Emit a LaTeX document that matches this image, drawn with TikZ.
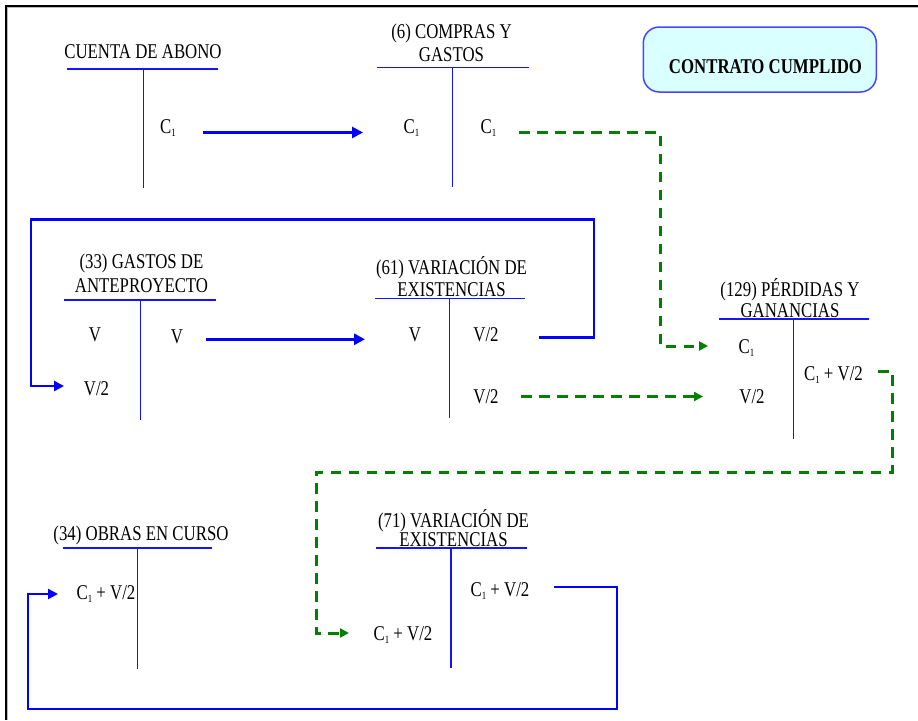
\documentclass[tikz,border=0pt]{standalone}
\usepackage{fontspec}
\setmainfont{Liberation Serif}[FakeStretch=0.8]
\usetikzlibrary{arrows.meta}
\definecolor{tblue}{RGB}{20,20,255}
\definecolor{fgreen}{RGB}{0,128,0}
\definecolor{boxfill}{RGB}{218,255,255}
\definecolor{boxline}{RGB}{70,70,255}
\newcommand{\Cone}{C\raisebox{-3pt}{\fontsize{11}{11}\selectfont 1}}
\newcommand{\ttl}[3]{\fontsize{21}{#1}\selectfont\begin{tabular}[t]{@{}c@{}}#2\\#3\end{tabular}}
\tikzset{
  ttext/.style={inner sep=0pt, anchor=base, font=\fontsize{21}{22}\selectfont},
  rule/.style={draw=tblue, line width=1.1pt},
  barrow/.style={draw=blue, line width=3.4pt, -{Triangle[length=11pt,width=11pt]}},
  bloop/.style={draw=blue, line width=2.8pt, -{Triangle[length=10pt,width=10pt]}},
  garrow/.style={draw=fgreen, line width=3pt, dash pattern=on 10.5pt off 7.5pt, -{Triangle[length=9pt,width=9pt]}},
}
\begin{document}
\begin{tikzpicture}[x=1pt,y=-1pt]
\useasboundingbox (0,0) rectangle (918,720);
% frame
\draw[gray!55, line width=1pt] (7.8,720) -- (7.8,7.8) -- (918,7.8);
\draw[black, line width=2.3pt] (6.2,720) -- (6.2,6.2) -- (918,6.2);

% CONTRATO CUMPLIDO box
\node[draw=boxline, fill=boxfill, line width=1.5pt, rounded corners=16pt, minimum width=233pt, minimum height=65pt, inner sep=0pt] (box) at (759.8,59.5) {};
\node[inner sep=0pt, anchor=base, font=\fontsize{21}{22}\selectfont\bfseries] (boxt) at (765.5,73.5) {CONTRATO CUMPLIDO};

% ---- T account: CUENTA DE ABONO
\node[ttext] (t1) at (143,58) {CUENTA DE ABONO};
\coordinate (t1l) at (67,69); \coordinate (t1r) at (218,69);
\coordinate (t1t) at (143.4,69); \coordinate (t1b) at (143.4,188);
\draw[rule] (t1l) -- (t1r); \draw[rule] (t1t) -- (t1b);
\node[ttext] (e1) at (168,133) {\Cone};

% ---- (6) COMPRAS Y GASTOS
\node[ttext] (t2) at (451.5,38.5) {\ttl{22.5}{(6) COMPRAS Y}{GASTOS}};
\coordinate (t2l) at (376.5,67.3); \coordinate (t2r) at (528.7,67.3);
\coordinate (t2t) at (452.6,67.3); \coordinate (t2b) at (452.6,187);
\draw[rule] (t2l) -- (t2r); \draw[rule] (t2t) -- (t2b);
\node[ttext] (e2a) at (411.5,133) {\Cone};
\node[ttext] (e2b) at (488.5,133) {\Cone};

% ---- (33) GASTOS DE ANTEPROYECTO
\node[ttext] (t3) at (141.5,268.5) {\ttl{24}{(33) GASTOS DE}{ANTEPROYECTO}};
\coordinate (t3l) at (64.4,300); \coordinate (t3r) at (215.5,300);
\coordinate (t3t) at (140.5,300); \coordinate (t3b) at (140.5,420);
\draw[rule] (t3l) -- (t3r); \draw[rule] (t3t) -- (t3b);
\node[ttext] (e3a) at (95,341.5) {V};
\node[ttext] (e3b) at (177,343) {V};
\node[ttext] (e3c) at (96.5,395) {V/2};

% ---- (61) VARIACION DE EXISTENCIAS
\node[ttext] (t4) at (451.5,274) {\ttl{22.5}{(61) VARIACIÓN DE}{EXISTENCIAS}};
\coordinate (t4l) at (374.7,298.5); \coordinate (t4r) at (525,298.5);
\coordinate (t4t) at (449.6,298.5); \coordinate (t4b) at (449.6,418);
\draw[rule] (t4l) -- (t4r); \draw[rule] (t4t) -- (t4b);
\node[ttext] (e4a) at (415,341.5) {V};
\node[ttext] (e4b) at (486,341.5) {V/2};
\node[ttext] (e4c) at (486,403) {V/2};

% ---- (129) PERDIDAS Y GANANCIAS
\node[ttext] (t5) at (790,296.5) {\ttl{21}{(129) PÉRDIDAS Y}{GANANCIAS}};
\coordinate (t5l) at (719,319); \coordinate (t5r) at (869.4,319);
\coordinate (t5t) at (793.3,319); \coordinate (t5b) at (793.3,439);
\draw[rule] (t5l) -- (t5r); \draw[rule] (t5t) -- (t5b);
\node[ttext] (e5a) at (746.5,353) {\Cone};
\node[ttext] (e5b) at (833.5,380) {\Cone{} + V/2};
\node[ttext] (e5c) at (752,403) {V/2};

% ---- (34) OBRAS EN CURSO
\node[ttext] (t6) at (141,540) {(34) OBRAS EN CURSO};
\coordinate (t6l) at (62.5,548); \coordinate (t6r) at (212,548);
\coordinate (t6t) at (137.6,548); \coordinate (t6b) at (137.6,669);
\draw[rule] (t6l) -- (t6r); \draw[rule] (t6t) -- (t6b);
\node[ttext] (e6a) at (106,599) {\Cone{} + V/2};

% ---- (71) VARIACION DE EXISTENCIAS
\node[ttext] (t7) at (453.5,527) {\ttl{18.5}{(71) VARIACIÓN DE}{EXISTENCIAS}};
\coordinate (t7l) at (375.5,548); \coordinate (t7r) at (526.5,548);
\coordinate (t7t) at (451,548); \coordinate (t7b) at (451,668);
\draw[rule] (t7l) -- (t7r); \draw[rule] (t7t) -- (t7b);
\node[ttext] (e7a) at (500,596) {\Cone{} + V/2};
\node[ttext] (e7b) at (403,640) {\Cone{} + V/2};

% ---- connectors
% C1 (abono) -> C1 (compras)
\coordinate (a1s) at (203,132.5); \coordinate (a1e) at (363,132.5);
\draw[barrow] (a1s) -- (a1e);
% C1 (compras) -> C1 (PyG)
\coordinate (g1s) at (519,132.5); \coordinate (g1a) at (660,132.5);
\coordinate (g1b) at (660,346); \coordinate (g1e) at (708,346);
\draw[garrow] (g1s) -- (g1a) -- (g1b) -- (g1e);
% V (33) -> V (61)
\coordinate (a2s) at (206,339.3); \coordinate (a2e) at (365,339.3);
\draw[barrow] (a2s) -- (a2e);
% V/2 (61) -> V/2 (33)
\coordinate (l1s) at (539,337.5); \coordinate (l1a) at (594,337.5);
\coordinate (l1b) at (594,219.5); \coordinate (l1c) at (31,219.5);
\coordinate (l1d) at (31,386); \coordinate (l1e) at (64,386);
\draw[bloop] (l1s) -- (l1a) -- (l1b) -- (l1c) -- (l1d) -- (l1e);
% V/2 (61) -> V/2 (PyG)
\coordinate (g2s) at (521,396.5); \coordinate (g2e) at (703,396.5);
\draw[garrow] (g2s) -- (g2e);
% C1+V/2 (PyG) -> C1+V/2 (71)
\coordinate (g3s) at (878,371); \coordinate (g3a) at (892,371);
\coordinate (g3b) at (892,472); \coordinate (g3c) at (316,472);
\coordinate (g3d) at (316,633); \coordinate (g3e) at (349,633);
\draw[garrow] (g3s) -- (g3a) -- (g3b) -- (g3c) -- (g3d) -- (g3e);
% C1+V/2 (71) -> C1+V/2 (34)
\coordinate (l2s) at (554,587); \coordinate (l2a) at (617,587);
\coordinate (l2b) at (617,709); \coordinate (l2c) at (28,709);
\coordinate (l2d) at (28,594); \coordinate (l2e) at (58,594);
\draw[bloop] (l2s) -- (l2a) -- (l2b) -- (l2c) -- (l2d) -- (l2e);
\end{tikzpicture}
\end{document}
